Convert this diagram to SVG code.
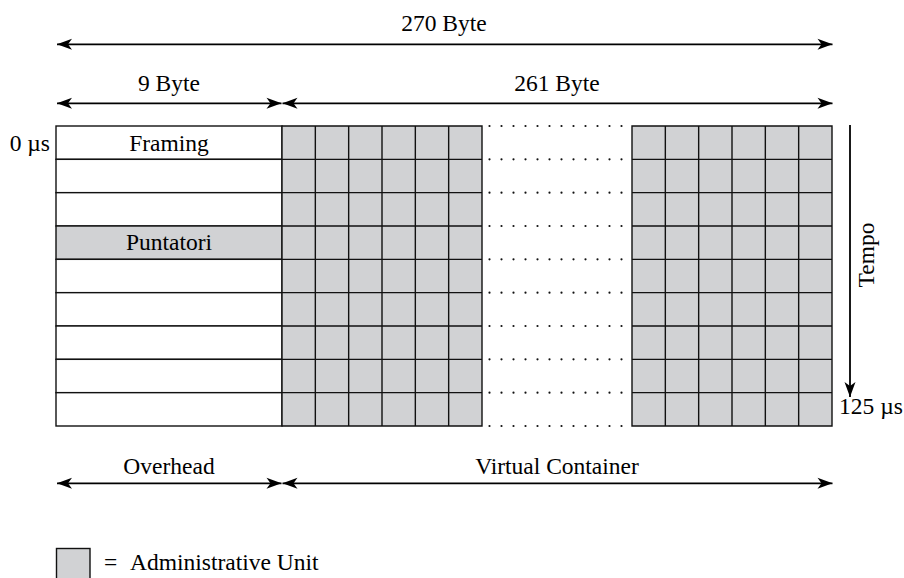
<svg xmlns="http://www.w3.org/2000/svg" width="904" height="578" viewBox="0 0 904 578">
<style>
text{font-family:'Liberation Serif','Times New Roman',serif;font-size:23.5px;fill:#000}
.c{fill:#d1d2d4;stroke:#111;stroke-width:1.4}
.w{fill:#fff;stroke:#111;stroke-width:1.4}
.a{stroke:#000;stroke-width:1.8;fill:none}
.d{fill:#111}
</style>
<defs>
<marker id="ah" markerUnits="userSpaceOnUse" markerWidth="20" markerHeight="14" viewBox="-16 -7 17 14" refX="0" refY="0" orient="auto-start-reverse">
<path d="M0,0 L-15,-5.5 L-11,0 L-15,5.5 Z" fill="#000"/>
</marker>
<g id="dotrow">
<circle cx="489.5" cy="0" r="1.1"/><circle cx="501.5" cy="0" r="1.1"/><circle cx="513.5" cy="0" r="1.1"/><circle cx="525.5" cy="0" r="1.1"/><circle cx="537.5" cy="0" r="1.1"/><circle cx="549.5" cy="0" r="1.1"/><circle cx="561.5" cy="0" r="1.1"/><circle cx="573.5" cy="0" r="1.1"/><circle cx="585.5" cy="0" r="1.1"/><circle cx="597.5" cy="0" r="1.1"/><circle cx="609.5" cy="0" r="1.1"/><circle cx="621.5" cy="0" r="1.1"/>
</g>
</defs>

<g id="overhead">
<rect class="w" x="56" y="126" width="226" height="33.333"/>
<rect class="w" x="56" y="159.333" width="226" height="33.333"/>
<rect class="w" x="56" y="192.667" width="226" height="33.333"/>
<rect class="c" x="56" y="226" width="226" height="33.333"/>
<rect class="w" x="56" y="259.333" width="226" height="33.333"/>
<rect class="w" x="56" y="292.667" width="226" height="33.333"/>
<rect class="w" x="56" y="326" width="226" height="33.333"/>
<rect class="w" x="56" y="359.333" width="226" height="33.333"/>
<rect class="w" x="56" y="392.667" width="226" height="33.333"/>
<text x="169" y="151" text-anchor="middle">Framing</text>
<text x="169" y="250" text-anchor="middle">Puntatori</text>
</g>

<g id="grid-left">
<path class="c" d="M282,126h200v300h-200z M282,159.333h200 M282,192.667h200 M282,226h200 M282,259.333h200 M282,292.667h200 M282,326h200 M282,359.333h200 M282,392.667h200 M315.333,126v300 M348.667,126v300 M382,126v300 M415.333,126v300 M448.667,126v300"/>
</g>

<g id="grid-right">
<path class="c" d="M632,126h200v300h-200z M632,159.333h200 M632,192.667h200 M632,226h200 M632,259.333h200 M632,292.667h200 M632,326h200 M632,359.333h200 M632,392.667h200 M665.333,126v300 M698.667,126v300 M732,126v300 M765.333,126v300 M798.667,126v300"/>
</g>

<g id="dots" class="d">
<use href="#dotrow" y="126"/>
<use href="#dotrow" y="159.333"/>
<use href="#dotrow" y="192.667"/>
<use href="#dotrow" y="226"/>
<use href="#dotrow" y="259.333"/>
<use href="#dotrow" y="292.667"/>
<use href="#dotrow" y="326"/>
<use href="#dotrow" y="359.333"/>
<use href="#dotrow" y="392.667"/>
<use href="#dotrow" y="426"/>
</g>

<g id="connectors">
<line class="a" x1="57" y1="44.3" x2="832.5" y2="44.3" marker-start="url(#ah)" marker-end="url(#ah)"/>
<line class="a" x1="57" y1="103.3" x2="281.5" y2="103.3" marker-start="url(#ah)" marker-end="url(#ah)"/>
<line class="a" x1="282.5" y1="103.3" x2="832.5" y2="103.3" marker-start="url(#ah)" marker-end="url(#ah)"/>
<line class="a" x1="57" y1="483.3" x2="281.5" y2="483.3" marker-start="url(#ah)" marker-end="url(#ah)"/>
<line class="a" x1="282.5" y1="483.3" x2="832.5" y2="483.3" marker-start="url(#ah)" marker-end="url(#ah)"/>
<line class="a" x1="850" y1="125" x2="850" y2="397" marker-end="url(#ah)"/>
</g>

<g id="labels">
<text x="444" y="31" text-anchor="middle">270 Byte</text>
<text x="169" y="91" text-anchor="middle">9 Byte</text>
<text x="557" y="91" text-anchor="middle">261 Byte</text>
<text x="50" y="151" text-anchor="end">0 µs</text>
<text x="871" y="413.5" text-anchor="middle">125 µs</text>
<text transform="translate(874,255) rotate(-90)" text-anchor="middle">Tempo</text>
<text x="169" y="473.5" text-anchor="middle">Overhead</text>
<text x="557" y="473.5" text-anchor="middle">Virtual Container</text>
</g>

<g id="legend">
<rect class="c" x="56.5" y="548.5" width="33.5" height="33"/>
<text x="104" y="570">=</text>
<text x="130" y="570">Administrative Unit</text>
</g>
</svg>
